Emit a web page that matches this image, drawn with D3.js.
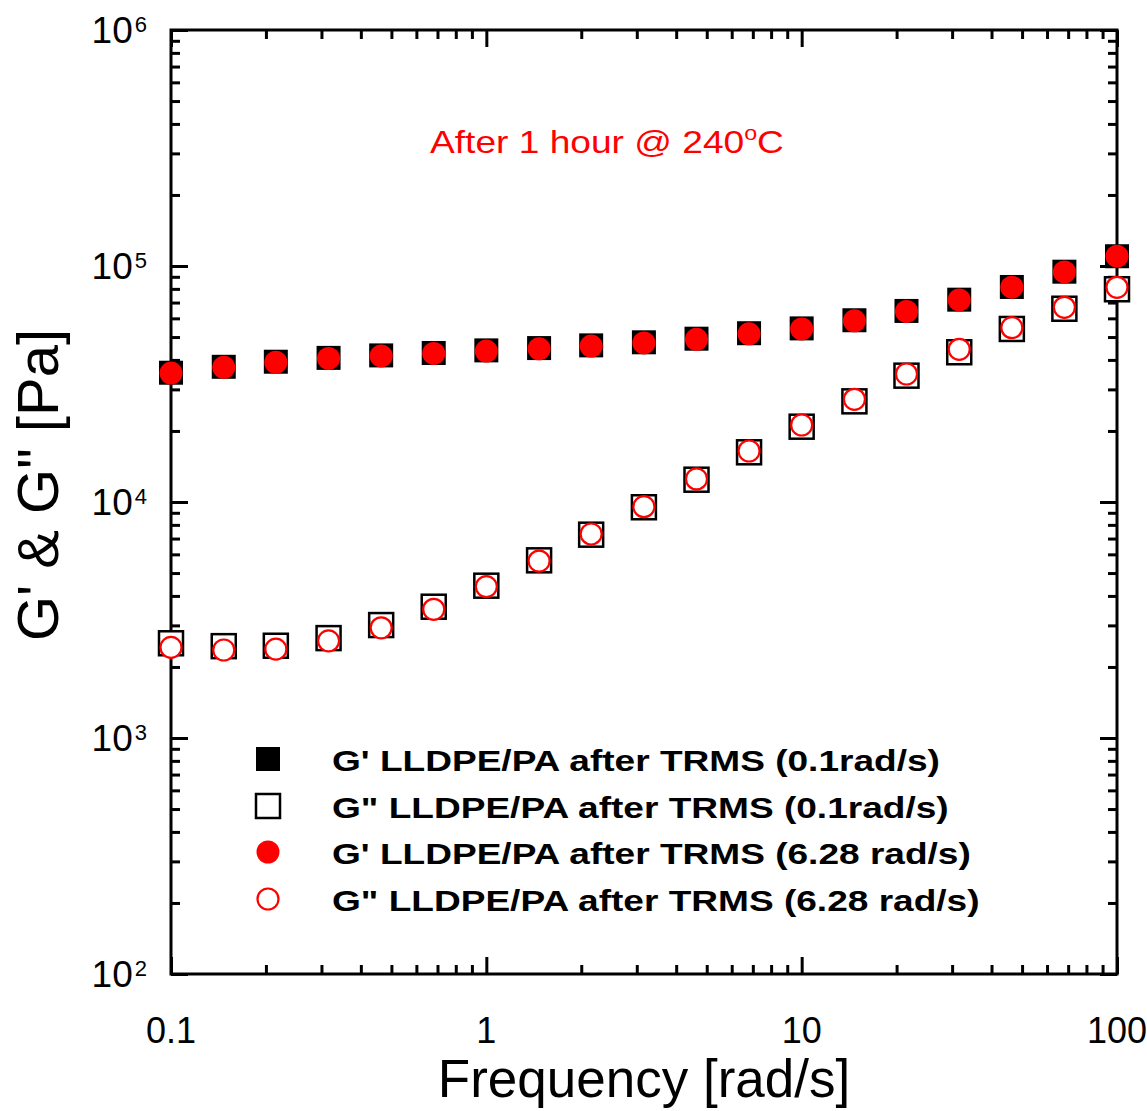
<!DOCTYPE html>
<html>
<head>
<meta charset="utf-8">
<script src="https://cdn.jsdelivr.net/npm/d3@7"></script>
<style>
body { margin: 0; background: #fff; }
text { font-family: "Liberation Sans", Arial, sans-serif; }
</style>
</head>
<body>
<div id="chart"></div>
<script>
// frequency sweep, 6 points per decade
const freq = [0.1, 0.147, 0.215, 0.316, 0.464, 0.681, 1, 1.47, 2.15, 3.16, 4.64, 6.81, 10, 14.7, 21.5, 31.6, 46.4, 68.1, 100];
const gStorage01 = [35300, 37400, 39300, 40800, 41800, 42800, 43900, 44900, 46100, 47500, 49200, 51900, 54400, 58900, 64500, 72000, 81500, 94600, 110000];
const gLoss01 = [2520, 2450, 2460, 2650, 3010, 3600, 4420, 5660, 7270, 9500, 12430, 16240, 20850, 26700, 34300, 43100, 54100, 65900, 79700];
const gStorage628 = [35200, 37200, 39100, 40600, 41600, 42600, 43600, 44600, 45800, 47200, 48900, 51600, 54100, 58600, 64200, 71800, 81300, 94400, 110000];
const gLoss628 = [2420, 2360, 2380, 2580, 2930, 3510, 4380, 5620, 7320, 9550, 12520, 16450, 21200, 27240, 34860, 44360, 54760, 66830, 81240];

const seriesLabels = [
    "G' LLDPE/PA after TRMS (0.1rad/s)",
    "G\" LLDPE/PA after TRMS (0.1rad/s)",
    "G' LLDPE/PA after TRMS (6.28 rad/s)",
    "G\" LLDPE/PA after TRMS (6.28 rad/s)"
];
const xTickValues = [0.1, 1, 10, 100];
const xTickLabels = ["0.1", "1", "10", "100"];
const yExponents = [2, 3, 4, 5, 6];

const width = 1147, height = 1111;
const margin = {top: 30, right: 30, bottom: 137, left: 171};
const red = "#f00";

const svg = d3.select("#chart")
    .append("svg")
    .attr("width", width)
    .attr("height", height);

const x = d3.scaleLog()
    .domain([0.1, 100])
    .range([margin.left, width - margin.right]);

const y = d3.scaleLog()
    .domain([100, 1e6])
    .range([height - margin.bottom, margin.top]);

// minor ticks 2..9 in every decade
const minorX = [];
[0.1, 1, 10].forEach(k => d3.range(2, 10).forEach(m => minorX.push(k * m)));
const minorY = [];
[100, 1000, 1e4, 1e5].forEach(k => d3.range(2, 10).forEach(m => minorY.push(k * m)));

const x0 = margin.left, x1 = width - margin.right;
const y0 = height - margin.bottom, y1 = margin.top;

function drawTicks(axis, tx, ty, values, size) {
    const g = svg.append("g")
        .attr("transform", `translate(${tx},${ty})`)
        .call(axis.tickValues(values).tickSize(-size).tickFormat(""));
    g.select(".domain").remove();
    g.selectAll("line").attr("stroke", "#000").attr("stroke-width", 3);
}

drawTicks(d3.axisBottom(x), 0, y0, xTickValues, 17);
drawTicks(d3.axisBottom(x), 0, y0, minorX, 9);
drawTicks(d3.axisTop(x), 0, y1, xTickValues, 17);
drawTicks(d3.axisTop(x), 0, y1, minorX, 9);
const yMajor = yExponents.map(e => Math.pow(10, e));
drawTicks(d3.axisLeft(y), x0, 0, yMajor, 17);
drawTicks(d3.axisLeft(y), x0, 0, minorY, 9);
drawTicks(d3.axisRight(y), x1, 0, yMajor, 17);
drawTicks(d3.axisRight(y), x1, 0, minorY, 9);

svg.append("rect")
    .attr("x", x0)
    .attr("y", y1)
    .attr("width", x1 - x0)
    .attr("height", y0 - y1)
    .attr("fill", "none")
    .attr("stroke", "#000")
    .attr("stroke-width", 3);

// tick labels
svg.selectAll(".xlab")
    .data(xTickValues)
    .enter()
    .append("text")
    .attr("class", "xlab")
    .attr("x", d => x(d))
    .attr("y", y0 + 69)
    .attr("text-anchor", "middle")
    .attr("font-size", 36)
    .text((d, i) => xTickLabels[i]);

const ylab = svg.selectAll(".ylab")
    .data(yExponents)
    .enter()
    .append("text")
    .attr("class", "ylab")
    .attr("x", x0 - 24)
    .attr("y", d => y(Math.pow(10, d)) + 13)
    .attr("text-anchor", "end")
    .attr("font-size", 37);
ylab.append("tspan").text("10");
ylab.append("tspan")
    .attr("dx", 2)
    .attr("dy", -11)
    .attr("font-size", 22)
    .text(d => d);

// axis titles
svg.append("text")
    .attr("x", (x0 + x1) / 2)
    .attr("y", 1097)
    .attr("text-anchor", "middle")
    .attr("font-size", 53)
    .text("Frequency [rad/s]");

svg.append("text")
    .attr("transform", "translate(58,485) rotate(-90)")
    .attr("text-anchor", "middle")
    .attr("font-size", 58)
    .text("G' & G\" [Pa]");

// series: squares first, circles on top
const series = [
    {values: gStorage01, shape: "square", fill: "#000", stroke: "none"},
    {values: gLoss01, shape: "square", fill: "#fff", stroke: "#000"},
    {values: gStorage628, shape: "circle", fill: red, stroke: "none"},
    {values: gLoss628, shape: "circle", fill: "#fff", stroke: red}
];

function addMarker(sel, s) {
    if (s.shape === "square") {
        sel.append("rect")
            .attr("x", -12).attr("y", -12)
            .attr("width", 24).attr("height", 24)
            .attr("fill", s.fill)
            .attr("stroke", s.stroke)
            .attr("stroke-width", s.stroke === "none" ? 0 : 2.5);
    } else {
        sel.append("circle")
            .attr("r", s.stroke === "none" ? 11.5 : 10.5)
            .attr("fill", s.fill)
            .attr("stroke", s.stroke)
            .attr("stroke-width", s.stroke === "none" ? 0 : 2.2);
    }
}

series.forEach(s => {
    svg.append("g")
        .selectAll("g")
        .data(freq.map((f, i) => ({f: f, v: s.values[i]})))
        .enter()
        .append("g")
        .attr("transform", d => `translate(${x(d.f)},${y(d.v)})`)
        .each(function() { addMarker(d3.select(this), s); });
});

// legend
const legendRows = [759, 806, 852, 899];
const stretch = 1.235;
series.forEach((s, i) => {
    const g = svg.append("g").attr("transform", `translate(268,${legendRows[i]})`);
    addMarker(g, s);
    const t = svg.append("text")
        .attr("x", 332)
        .attr("y", legendRows[i] + 12)
        .attr("font-size", 30)
        .attr("font-weight", "bold")
        .text(seriesLabels[i]);
    t.attr("textLength", t.node().getComputedTextLength() * stretch)
        .attr("lengthAdjust", "spacingAndGlyphs");
});

// annotation
const note = svg.append("text")
    .attr("x", 430)
    .attr("y", 153)
    .attr("font-size", 32)
    .attr("fill", red);
note.append("tspan").text("After 1 hour @ 240");
note.append("tspan").attr("dy", -13).attr("font-size", 20).text("o");
note.append("tspan").attr("dy", 13).text("C");
note.attr("textLength", note.node().getComputedTextLength() * 1.16)
    .attr("lengthAdjust", "spacingAndGlyphs");
</script>
</body>
</html>
